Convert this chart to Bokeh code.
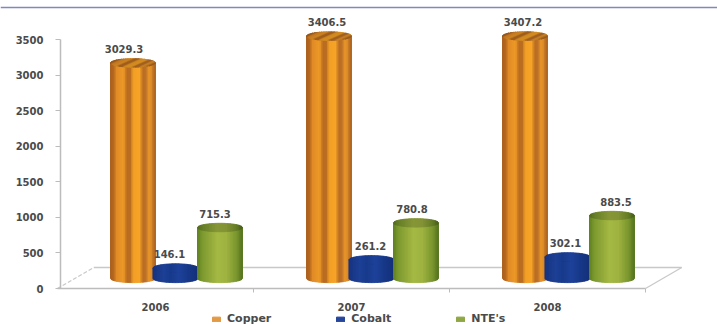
from bokeh.core.properties import value as fixed
from bokeh.embed import file_html
from bokeh.models import (ColumnDataSource, FixedTicker, Legend, LegendItem,
                          Range1d, Span)
from bokeh.plotting import figure
from bokeh.resources import INLINE
import numpy as np

# Production by year, one list per series
years = ["2006", "2007", "2008"]
copper = [3029.3, 3406.5, 3407.2]
cobalt = [146.1, 261.2, 302.1]
ntes = [715.3, 780.8, 883.5]
series_names = ["Copper", "Cobalt", "NTE's"]
y_ticks = [0, 500, 1000, 1500, 2000, 2500, 3000, 3500]

# Horizontal nudges of the value captions, in pixels
copper_nudge = [-9, -2, -2]
cobalt_nudge = [-6, -1, -2]
ntes_nudge = [-5, -4, 4]

# Shading across a cylinder: (position from 0 to 1, colour)
COPPER_STOPS = [(0, "#a9601f"), (.08, "#b5671f"), (.14, "#e08a26"), (.30, "#ee9a28"), (.38, "#b96c20"),
                (.45, "#bb6e20"), (.52, "#f2a026"), (.66, "#f7a426"), (.73, "#b86c22"),
                (.81, "#c0742a"), (.86, "#ee9a28"), (.92, "#d98a2a"), (1, "#a9601f")]
COBALT_STOPS = [(0, "#16337f"), (.25, "#1d4096"), (.4, "#183a8c"), (.6, "#1e429a"), (.8, "#173888"), (1, "#14307a")]
NTES_STOPS = [(0, "#5f7f22"), (.12, "#7d9a30"), (.45, "#a4b844"), (.65, "#9fb341"), (.88, "#7a962e"), (1, "#567420")]


def to_rgb(c):
    return np.array([int(c[i:i + 2], 16) for i in (1, 3, 5)], dtype=float)


def shade(stops, t, factor=1.0):
    pos = [s[0] for s in stops]
    rgb = [to_rgb(s[1]) for s in stops]
    mix = [np.interp(t, pos, [c[k] for c in rgb]) * factor for k in range(3)]
    return "#%02x%02x%02x" % tuple(int(min(255, m)) for m in mix)


PX_PER_UNIT_Y = 0.07114
PX_PER_UNIT_X = 196.0
BASE = 142.0                      # cylinders stand slightly in front of the axis plane
HALF_W = 22.5 / PX_PER_UNIT_X
CAP_H = 4.2 / PX_PER_UNIT_Y
LABEL_GAP = 14.0 / PX_PER_UNIT_Y
FLOOR_DEPTH = 21.0 / PX_PER_UNIT_Y
FLOOR_SHIFT = 0.185
N_STRIPS = 30

# The frame fills the page; both axes are pinned inside it
p = figure(width=717, height=324, output_backend="svg", toolbar_location=None,
           x_range=Range1d(-155 / PX_PER_UNIT_X, (717 - 155) / PX_PER_UNIT_X),
           y_range=Range1d(-36 / PX_PER_UNIT_Y, 288 / PX_PER_UNIT_Y),
           min_border=0, background_fill_color="white", border_fill_color="white",
           outline_line_color=None)
p.grid.visible = False

# Rule across the top of the page
p.add_layout(Span(location=281 / PX_PER_UNIT_Y, dimension="width", line_color="#8487bd", line_width=1.6))

# Floor of the 3D plot
floor_color = "#c8c8c8"
p.line([-0.5 + FLOOR_SHIFT, 2.5 + FLOOR_SHIFT], [FLOOR_DEPTH, FLOOR_DEPTH], line_color=floor_color, line_width=1.5)
p.line([-0.5, -0.5 + FLOOR_SHIFT], [0, FLOOR_DEPTH], line_color=floor_color, line_width=1.2, line_dash="4 2")
p.line([2.5, 2.5 + FLOOR_SHIFT], [0, FLOOR_DEPTH], line_color=floor_color, line_width=1.2)


def cylinder(center, val, stops, cap_factor, slant):
    """Draw one cylinder as vertical strips plus a shaded elliptical cap."""
    xs, ys, colors = [], [], []
    edges = np.linspace(-1, 1, N_STRIPS + 1)
    for a, b in zip(edges[:-1], edges[1:]):
        us = np.linspace(a, b, 4)
        arc = CAP_H * np.sqrt(np.clip(1 - us ** 2, 0, 1))
        xs.append(list(center + HALF_W * us) + list(center + HALF_W * us[::-1]))
        ys.append(list(BASE + val - arc) + list(BASE - arc[::-1]))
        colors.append(shade(stops, (a + b + 2) / 4))
    limit = np.sqrt(1 + slant ** 2)
    cap_edges = np.linspace(-limit, limit, N_STRIPS + 1)
    for a, b in zip(cap_edges[:-1], cap_edges[1:]):
        us = np.linspace(a, b, 4)
        disc = np.clip(slant ** 2 * us ** 2 - (1 + slant ** 2) * (us ** 2 - 1), 0, None)
        up = (slant * us + np.sqrt(disc)) / (1 + slant ** 2)
        down = (slant * us - np.sqrt(disc)) / (1 + slant ** 2)
        xs.append(list(center + HALF_W * (us - slant * up)) + list(center + HALF_W * (us[::-1] - slant * down[::-1])))
        ys.append(list(BASE + val + CAP_H * up) + list(BASE + val + CAP_H * down[::-1]))
        colors.append(shade(stops, ((a + b) / 2 / limit + 1) / 2, cap_factor))
    p.patches(xs, ys, fill_color=colors, line_color=colors, line_width=1.0)


series = [
    (copper, -42.5, COPPER_STOPS, 0.86, -0.42, copper_nudge),
    (cobalt, 0.0, COBALT_STOPS, 1.0, 0.0, cobalt_nudge),
    (ntes, 44.5, NTES_STOPS, 0.82, 0.0, ntes_nudge),
]
# Cylinders of each group sit to the right of the year label
GROUP_SHIFT = 20.0
label_x, label_y, label_text, label_dx = [], [], [], []
for vals, dx, stops, factor, slant, nudge in series:
    for i, v in enumerate(vals):
        cx = i + (GROUP_SHIFT + dx) / PX_PER_UNIT_X
        cylinder(cx, v, stops, factor, slant)
        label_x.append(cx)
        label_y.append(BASE + v + LABEL_GAP)
        label_text.append(f"{v:.1f}")
        label_dx.append(nudge[i])

p.text("x", "y", "t", x_offset="dx", source=ColumnDataSource(dict(x=label_x, y=label_y, t=label_text, dx=label_dx)),
       text_font=fixed("DejaVu Sans"), text_font_style="bold", text_font_size="10px",
       text_color="#4a4a4a", text_align="center", text_baseline="middle")

# Axes
axis_color = "#bcbcbc"
xa = p.xaxis[0]
xa.fixed_location = 0
xa.ticker = FixedTicker(ticks=[0, 1, 2], minor_ticks=[0.5, 1.5, 2.5])
xa.major_label_overrides = {i: y for i, y in enumerate(years)}
xa.bounds = (-0.5, 2.5)
xa.axis_line_color = axis_color
xa.axis_line_width = 1.5
xa.major_tick_line_color = None
xa.major_tick_out = 0
xa.major_tick_in = 0
xa.minor_tick_line_color = axis_color
xa.minor_tick_out = 4
xa.minor_tick_in = 0
xa.major_label_standoff = 10

ya = p.yaxis[0]
ya.fixed_location = (60 - 155) / PX_PER_UNIT_X
ya.ticker = FixedTicker(ticks=y_ticks)
ya.bounds = (0, 3500)
ya.axis_line_color = axis_color
ya.axis_line_width = 1.5
ya.major_tick_line_color = axis_color
ya.major_tick_out = 5
ya.major_tick_in = 0
ya.minor_tick_line_color = None
ya.major_label_standoff = 12

for ax in (xa, ya):
    ax.major_label_text_font = "DejaVu Sans"
    ax.major_label_text_font_style = "bold"
    ax.major_label_text_font_size = "10px"
    ax.major_label_text_color = "#4a4a4a"

# Legend swatches: each key reads its colour from a single unplotted row
swatches = ["#e39a45", "#26469c", "#8fa845"]
items = []
for name, col in zip(series_names, swatches):
    r = p.quad(left=[np.nan], right=[np.nan], top=[np.nan], bottom=[np.nan], fill_color=col, line_color=col)
    items.append(LegendItem(label=name, renderers=[r], index=0))
legend = Legend(items=items, orientation="horizontal", location=(211, -1), background_fill_alpha=0,
                border_line_color=None, glyph_width=10, glyph_height=6, spacing=64, label_standoff=6,
                label_text_font="DejaVu Sans", label_text_font_style="bold", label_text_font_size="11px",
                label_text_color="#4a4a4a", margin=0, padding=0)
p.add_layout(legend)

with open("out.html", "w") as f:
    f.write(file_html(p, INLINE))
